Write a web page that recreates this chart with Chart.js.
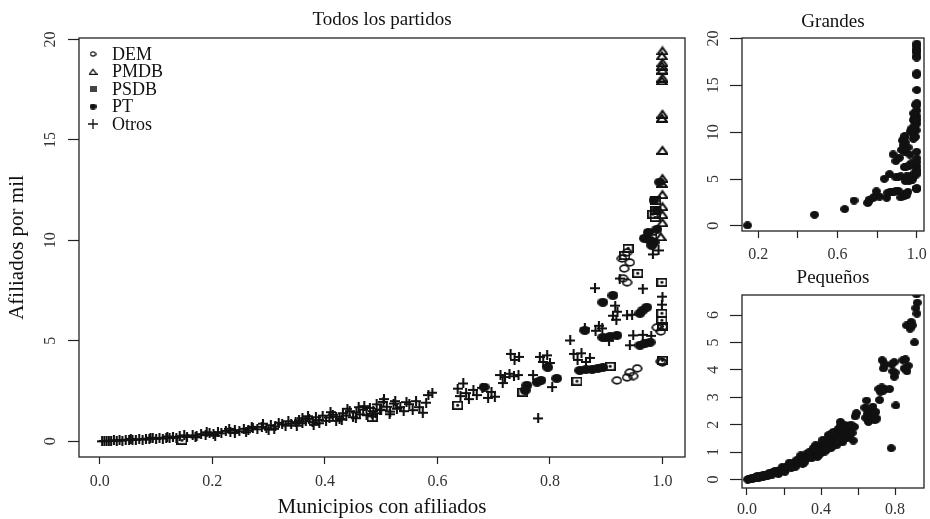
<!DOCTYPE html>
<html>
<head>
<meta charset="utf-8">
<script src="https://cdn.jsdelivr.net/npm/chart.js@4.4.1/dist/chart.umd.min.js"></script>
<style>
  html, body { margin: 0; padding: 0; background: #fff; }
  #page { position: relative; width: 930px; height: 519px; overflow: hidden; }
  canvas { position: absolute; }
</style>
</head>
<body>
<div id="page">
  <canvas id="todos" width="700" height="519" style="left:0;top:0"></canvas>
  <canvas id="grandes" width="230" height="260" style="left:700px;top:0"></canvas>
  <canvas id="pequenos" width="230" height="259" style="left:700px;top:260px"></canvas>
</div>
<script>
// datos: [municipios con afiliados, afiliados por mil]
let dem = [
  [0.937, 7.91], [0.930, 8.11], [0.928, 9.10], [0.937, 9.40], [0.942, 8.90], [0.932, 8.60],
  [0.990, 5.67], [0.997, 5.47], [1.000, 5.70], [0.997, 3.98], [1.000, 3.93],
  [0.919, 3.03], [0.937, 3.18], [0.942, 3.43], [0.955, 3.63], [0.948, 3.25]
];
let pmdb = [
  [1.000, 19.45], [0.999, 19.20], [1.000, 18.86], [0.999, 18.70], [1.000, 18.50], [1.000, 18.10],
  [0.999, 17.96], [1.000, 16.30], [0.999, 16.10], [1.000, 14.50], [1.000, 13.10], [0.999, 12.85],
  [1.000, 12.30], [1.000, 11.70], [1.000, 11.30], [1.000, 10.90], [0.997, 10.20]
];
let psdb = [
  [0.146, 0.05], [0.484, 1.19], [0.636, 1.79], [0.752, 2.44], [0.848, 2.99], [0.907, 3.73],
  [0.956, 8.36], [0.999, 7.91], [0.999, 6.37], [0.999, 6.02], [1.000, 5.72], [0.988, 11.99],
  [0.988, 11.49], [0.987, 11.14], [0.933, 9.25], [0.939, 9.60], [1.000, 4.03], [0.981, 10.10], [0.983, 11.30]
];
let pt = [
  [0.683, 2.70], [0.759, 2.79], [0.777, 2.94], [0.784, 3.03], [0.812, 3.13], [0.756, 2.54], [0.796, 3.68],
  [0.853, 3.53], [0.864, 3.58], [0.875, 3.58], [0.885, 3.63], [0.894, 3.68], [0.862, 5.52], [0.894, 5.17],
  [0.907, 5.22], [0.919, 5.27], [0.960, 4.78], [0.969, 4.88], [0.978, 4.93], [0.894, 6.92], [0.912, 7.26],
  [0.960, 6.37], [0.965, 6.52], [0.972, 6.67], [0.995, 12.90], [0.985, 12.00], [0.990, 11.50], [0.975, 10.40],
  [0.968, 10.10], [0.985, 9.90], [0.990, 10.55], [0.978, 10.00], [0.981, 9.75]
];
// otros partidos que entran en "Grandes"
let otrosGrandes = [
  [0.880, 7.62], [0.924, 8.10], [0.937, 6.27], [0.946, 6.30], [0.965, 7.60], [0.999, 6.80], [1.000, 7.20],
  [0.948, 5.27], [0.965, 5.30], [0.980, 5.25], [0.942, 4.78], [0.983, 9.30], [0.993, 9.50], [0.836, 5.02]
];
// otros partidos pequeños
let otrosPequenos = [
  [0.004, 0.00], [0.008, 0.02], [0.012, 0.01], [0.016, 0.03], [0.020, 0.02], [0.025, 0.05], [0.030, 0.03],
  [0.035, 0.06], [0.040, 0.04], [0.046, 0.08], [0.052, 0.06], [0.058, 0.09], [0.064, 0.07], [0.070, 0.11],
  [0.076, 0.09], [0.082, 0.13], [0.088, 0.10], [0.094, 0.15], [0.100, 0.12], [0.106, 0.17], [0.112, 0.14],
  [0.118, 0.19], [0.124, 0.16], [0.130, 0.22], [0.136, 0.18], [0.142, 0.26],
  [0.055, 0.12], [0.090, 0.18], [0.120, 0.24], [0.150, 0.30], [0.170, 0.20], [0.190, 0.45],
  [0.155, 0.22], [0.165, 0.30], [0.172, 0.26], [0.180, 0.36], [0.188, 0.31], [0.195, 0.42], [0.202, 0.36],
  [0.210, 0.46], [0.216, 0.40], [0.224, 0.52], [0.232, 0.45], [0.240, 0.56], [0.248, 0.50], [0.256, 0.62],
  [0.264, 0.55], [0.272, 0.66], [0.280, 0.60], [0.288, 0.72], [0.296, 0.65], [0.304, 0.80],
  [0.205, 0.28], [0.230, 0.62], [0.260, 0.45], [0.290, 0.88], [0.310, 0.62], [0.240, 0.42], [0.270, 0.72], [0.300, 0.58],
  [0.312, 0.74], [0.318, 0.92], [0.324, 0.84], [0.330, 0.78], [0.340, 0.88], [0.348, 0.96], [0.354, 1.05],
  [0.360, 0.90], [0.366, 1.00], [0.372, 1.12], [0.378, 0.95], [0.384, 1.20], [0.390, 1.06], [0.396, 1.28],
  [0.402, 1.02], [0.408, 1.18],
  [0.335, 1.00], [0.350, 0.78], [0.370, 1.25], [0.390, 0.90], [0.360, 1.15], [0.380, 0.82],
  [0.414, 1.32], [0.420, 1.22], [0.426, 1.12], [0.432, 1.40], [0.438, 1.28], [0.444, 1.50], [0.450, 1.20],
  [0.456, 1.44], [0.462, 1.34], [0.468, 1.58], [0.474, 1.30], [0.480, 1.66], [0.486, 1.50], [0.492, 1.84],
  [0.498, 1.58], [0.504, 1.96], [0.510, 1.72], [0.516, 1.48], [0.522, 1.88], [0.528, 1.62], [0.534, 1.70],
  [0.410, 1.45], [0.420, 1.02], [0.440, 1.62], [0.455, 1.15], [0.470, 1.75], [0.485, 1.25], [0.500, 1.55],
  [0.505, 2.10], [0.515, 1.35], [0.525, 2.00], [0.540, 1.50], [0.545, 1.95], [0.430, 1.08], [0.460, 1.70], [0.490, 1.40],
  [0.550, 1.85], [0.556, 1.55], [0.562, 2.00], [0.568, 1.70], [0.574, 1.42], [0.580, 1.92], [0.584, 2.30],
  [0.591, 2.42], [0.636, 2.62], [0.641, 2.25], [0.646, 2.88], [0.651, 2.40], [0.656, 2.10], [0.664, 2.56],
  [0.670, 2.30], [0.680, 2.66], [0.690, 2.16], [0.696, 2.46], [0.702, 2.22],
  [0.712, 3.30], [0.720, 3.20], [0.728, 3.36], [0.736, 3.24], [0.744, 3.30], [0.716, 2.90], [0.730, 4.35],
  [0.737, 4.05], [0.745, 4.20], [0.770, 3.30], [0.782, 4.20], [0.788, 3.95], [0.795, 4.28], [0.800, 3.90],
  [0.804, 2.70], [0.779, 1.14], [0.795, 3.75],
  [0.842, 4.35], [0.849, 4.05], [0.856, 4.38], [0.864, 3.95], [0.871, 4.15], [0.862, 5.62], [0.881, 5.50],
  [0.887, 5.75], [0.893, 5.62], [0.905, 5.00], [0.912, 6.25], [0.916, 6.75], [0.920, 6.45], [0.918, 6.05]
];

let partidos = ['DEM', 'PMDB', 'PSDB', 'PT', 'Otros'];

let todosXTicks = [0, 0.2, 0.4, 0.6, 0.8, 1.0];
let todosXLabels = ['0.0', '0.2', '0.4', '0.6', '0.8', '1.0'];
let todosYTicks = [0, 5, 10, 15, 20];
let todosYLabels = ['0', '5', '10', '15', '20'];
let grandesXTicks = [0.2, 0.4, 0.6, 0.8, 1.0];
let grandesXLabels = ['0.2', '', '0.6', '', '1.0'];
let grandesYTicks = [0, 5, 10, 15, 20];
let grandesYLabels = ['0', '5', '10', '15', '20'];
let pequenosXTicks = [0, 0.2, 0.4, 0.6, 0.8];
let pequenosXLabels = ['0.0', '', '0.4', '', '0.8'];
let pequenosYTicks = [0, 1, 2, 3, 4, 5, 6];
let pequenosYLabels = ['0', '1', '2', '3', '4', '5', '6'];

const serif = '"Liberation Serif", "DejaVu Serif", serif';
const ink = '#111';

// simbolos estilo R, un poco estirados a lo ancho como en la figura
function symbol(w, h, draw) {
    let c = document.createElement('canvas');
    c.width = w;
    c.height = h;
    let g = c.getContext('2d');
    g.strokeStyle = ink;
    g.fillStyle = ink;
    draw(g, w, h);
    return c;
}
function openCircle(w, h, lw) {
    return symbol(w, h, (g) => {
        g.lineWidth = lw;
        g.beginPath();
        g.ellipse(w / 2, h / 2, w / 2 - lw / 2 - 0.3, h / 2 - lw / 2 - 0.3, 0, 0, Math.PI * 2);
        g.stroke();
    });
}
function openTriangle(w, h, lw) {
    return symbol(w, h, (g) => {
        g.lineWidth = lw;
        g.beginPath();
        g.moveTo(w / 2, lw);
        g.lineTo(w - lw / 2, h - lw / 2);
        g.lineTo(lw / 2, h - lw / 2);
        g.closePath();
        g.stroke();
    });
}
function boxDot(w, h, lw) {
    return symbol(w, h, (g) => {
        g.lineWidth = lw;
        g.strokeRect(lw / 2, lw / 2, w - lw, h - lw);
        g.beginPath();
        g.ellipse(w / 2, h / 2, 1.6, 1.4, 0, 0, Math.PI * 2);
        g.fill();
    });
}
function dot(w, h) {
    return symbol(w, h, (g) => {
        g.beginPath();
        g.ellipse(w / 2, h / 2, w / 2, h / 2, 0, 0, Math.PI * 2);
        g.fill();
    });
}
function plus(w, h, lw) {
    return symbol(w, h, (g) => {
        g.lineWidth = lw;
        g.beginPath();
        g.moveTo(0, h / 2); g.lineTo(w, h / 2);
        g.moveTo(w / 2, 0); g.lineTo(w / 2, h);
        g.stroke();
    });
}

let sym = {
    DEM: openCircle(11, 9, 1.7),
    PMDB: openTriangle(12, 10, 2.1),
    PSDB: boxDot(11, 9, 1.8),
    PT: dot(11, 9),
    Otros: plus(10, 10, 2.1)
};
let legendSym = [
    openCircle(7, 6, 1.3),
    openTriangle(9, 7, 1.3),
    symbol(7, 6, (g) => { g.fillStyle = '#444'; g.fillRect(0, 0, 7, 6); }),
    dot(7, 6),
    plus(10, 10, 1.3)
];
let smallDot = dot(9, 8);

function pts(list) {
    return list.map(p => ({ x: p[0], y: p[1] }));
}

// decoracion estilo R: caja, etiquetas de ejes giradas, titulos, leyenda
function decor(cfg) {
    return {
        id: 'rDecor',
        afterDraw(chart) {
            let ctx = chart.ctx, a = chart.chartArea;
            let sx = chart.scales.x, sy = chart.scales.y;
            ctx.save();
            ctx.strokeStyle = '#222';
            ctx.lineWidth = 1.3;
            ctx.strokeRect(a.left, a.top, a.right - a.left, a.bottom - a.top);

            ctx.fillStyle = '#333';
            ctx.font = '16px ' + serif;
            ctx.textAlign = 'center';
            ctx.textBaseline = 'middle';
            cfg.xTicks.forEach((v, i) => {
                if (cfg.xLabels[i]) ctx.fillText(cfg.xLabels[i], sx.getPixelForValue(v), cfg.xLabelY);
            });
            cfg.yTicks.forEach((v, i) => {
                if (!cfg.yLabels[i]) return;
                ctx.save();
                ctx.translate(cfg.yLabelX, sy.getPixelForValue(v));
                ctx.rotate(-Math.PI / 2);
                ctx.fillText(cfg.yLabels[i], 0, 0);
                ctx.restore();
            });

            ctx.fillStyle = ink;
            ctx.font = '19px ' + serif;
            ctx.fillText(cfg.title, (a.left + a.right) / 2, cfg.titleY);

            if (cfg.xTitle) {
                ctx.font = '21px ' + serif;
                ctx.fillText(cfg.xTitle, (a.left + a.right) / 2, cfg.xTitleY);
                ctx.save();
                ctx.translate(cfg.yTitleX, (a.top + a.bottom) / 2);
                ctx.rotate(-Math.PI / 2);
                ctx.fillText(cfg.yTitle, 0, 0);
                ctx.restore();
            }

            if (cfg.legend) {
                ctx.font = '18px ' + serif;
                ctx.textAlign = 'left';
                cfg.legend.forEach((label, i) => {
                    let y = a.top + 16 + i * 17.5;
                    Chart.helpers.drawPoint(ctx, { pointStyle: legendSym[i], radius: 4 }, a.left + 14, y);
                    ctx.fillText(label, a.left + 33, y + 1);
                });
            }
            ctx.restore();
        }
    };
}

function axis(min, max, ticks, tickLen, size, isX) {
    return {
        type: 'linear',
        min: min,
        max: max,
        afterBuildTicks: (s) => { s.ticks = ticks.map(v => ({ value: v })); },
        afterFit: (s) => { if (isX) s.height = size; else s.width = size; },
        ticks: { display: false },
        border: { display: false },
        grid: {
            display: true,
            drawOnChartArea: false,
            drawTicks: true,
            tickLength: tickLen,
            tickColor: '#222',
            tickWidth: 1.2
        }
    };
}

function baseOptions(padding, xScale, yScale) {
    return {
        responsive: false,
        animation: false,
        devicePixelRatio: 1,
        layout: { padding: padding },
        plugins: { legend: { display: false }, tooltip: { enabled: false } },
        scales: { x: xScale, y: yScale }
    };
}

// Todos los partidos
new Chart(document.getElementById('todos'), {
    type: 'scatter',
    data: {
        datasets: [
            { label: 'PT', data: pts(pt), pointStyle: sym.PT, pointRadius: 4 },
            { label: 'PSDB', data: pts(psdb), pointStyle: sym.PSDB, pointRadius: 4 },
            { label: 'PMDB', data: pts(pmdb), pointStyle: sym.PMDB, pointRadius: 4 },
            { label: 'DEM', data: pts(dem), pointStyle: sym.DEM, pointRadius: 4 },
            { label: 'Otros', data: pts(otrosGrandes.concat(otrosPequenos)), pointStyle: sym.Otros, pointRadius: 4 }
        ]
    },
    options: baseOptions(
        { left: 0, top: 38, right: 15, bottom: 0 },
        axis(-0.037, 1.04, todosXTicks, 7, 62, true),
        axis(-0.78, 20.07, todosYTicks, 11, 79, false)
    ),
    plugins: [decor({
        title: 'Todos los partidos', titleY: 20,
        xTicks: todosXTicks, xLabels: todosXLabels, xLabelY: 482,
        yTicks: todosYTicks, yLabels: todosYLabels, yLabelX: 51,
        xTitle: 'Municipios con afiliados', xTitleY: 507,
        yTitle: 'Afiliados por mil', yTitleX: 17,
        legend: partidos
    })]
});

// Grandes
new Chart(document.getElementById('grandes'), {
    type: 'scatter',
    data: {
        datasets: [
            { label: 'Grandes', data: pts(dem.concat(pmdb, psdb, pt, otrosGrandes)), pointStyle: smallDot, pointRadius: 4 }
        ]
    },
    options: baseOptions(
        { left: 0, top: 38, right: 6, bottom: 0 },
        axis(0.118, 1.036, grandesXTicks, 7, 29, true),
        axis(-0.55, 20.05, grandesYTicks, 12, 42, false)
    ),
    plugins: [decor({
        title: 'Grandes', titleY: 22,
        xTicks: grandesXTicks, xLabels: grandesXLabels, xLabelY: 255,
        yTicks: grandesYTicks, yLabels: grandesYLabels, yLabelX: 14
    })]
});

// Pequeños
new Chart(document.getElementById('pequenos'), {
    type: 'scatter',
    data: {
        datasets: [
            { label: 'Pequeños', data: pts(otrosPequenos), pointStyle: smallDot, pointRadius: 4 }
        ]
    },
    options: baseOptions(
        { left: 0, top: 35, right: 6, bottom: 0 },
        axis(-0.027, 0.956, pequenosXTicks, 7, 31, true),
        axis(-0.31, 6.73, pequenosYTicks, 12, 42, false)
    ),
    plugins: [decor({
        title: 'Pequeños', titleY: 18,
        xTicks: pequenosXTicks, xLabels: pequenosXLabels, xLabelY: 250,
        yTicks: pequenosYTicks, yLabels: pequenosYLabels, yLabelX: 14
    })]
});
</script>
</body>
</html>
